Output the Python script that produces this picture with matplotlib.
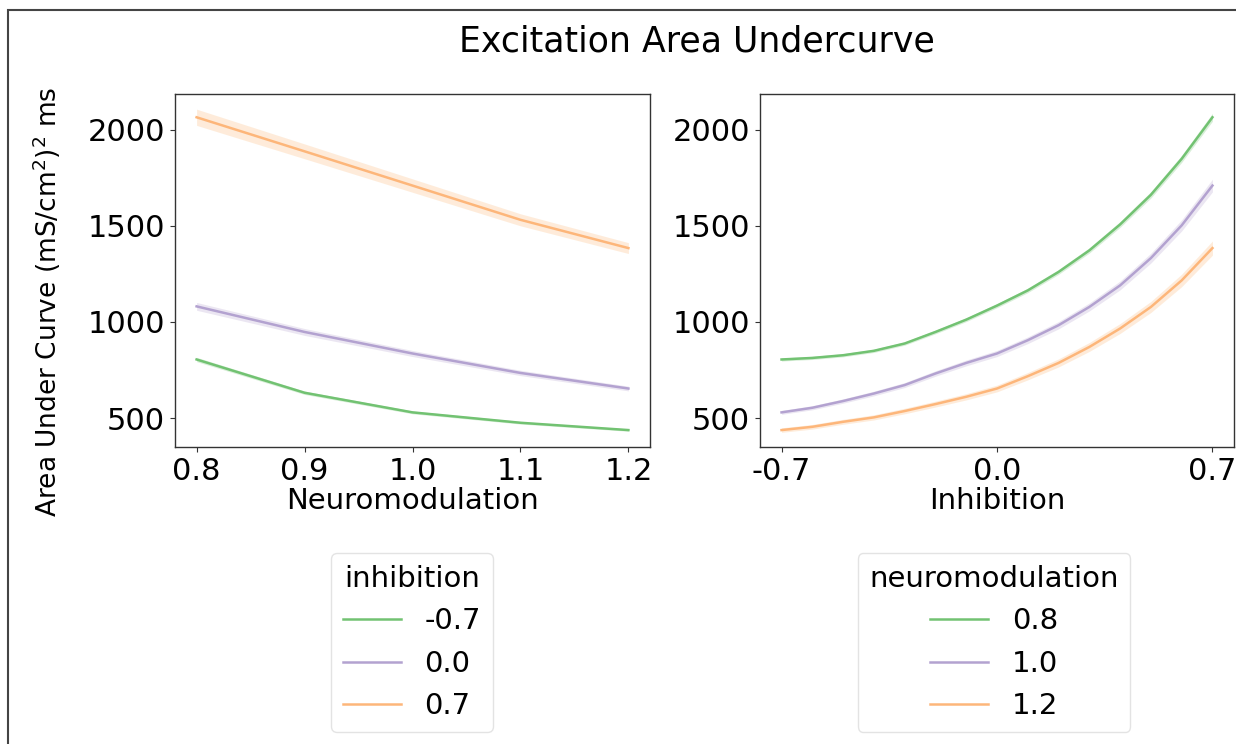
import matplotlib
matplotlib.use("Agg")
from matplotlib import pyplot as plt
import matplotlib.patches as mpatches
import numpy as np

# values
neuromodulation = [0.8, 0.9, 1.0, 1.1, 1.2]
inhibition = [-0.7, -0.6, -0.5, -0.4, -0.3, -0.2, -0.1, 0.0, 0.1, 0.2, 0.3, 0.4, 0.5, 0.6, 0.7]

# left panel: one line per inhibition level
left_labels = ["-0.7", "0.0", "0.7"]
left_inh_m07 = [805, 632, 530, 476, 438]
left_inh_00 = [1081, 948, 836, 735, 654]
left_inh_07 = [2064, 1887, 1709, 1531, 1384]
left_ci = [8, 16, 35]

# right panel: one line per neuromodulation level
right_labels = ["0.8", "1.0", "1.2"]
right_nm_08 = [805, 813, 827, 850, 888, 948, 1012, 1085, 1164, 1260, 1372, 1507, 1661, 1848, 2064]
right_nm_10 = [530, 554, 589, 628, 672, 732, 787, 836, 905, 983, 1078, 1190, 1332, 1502, 1709]
right_nm_12 = [438, 455, 481, 504, 537, 573, 611, 654, 718, 787, 870, 966, 1078, 1216, 1384]
right_ci = [12, 18, 20]

colors = ["#7fc97f", "#beaed4", "#fdc086"]
line_colors = ["#72c272", "#b3a2d0", "#fdb67a"]

W, H = 1236, 744
fig = plt.figure(figsize=(W / 100, H / 100), dpi=100)


def px_axes(x0, y0, x1, y1):
    return fig.add_axes([x0 / W, 1 - y1 / H, (x1 - x0) / W, (y1 - y0) / H])


ax1 = px_axes(175, 94, 650, 447)
ax2 = px_axes(760, 94, 1234, 447)


def draw(ax, x, series, cis, labels):
    handles = []
    for vals, ci, c, lc, lab in zip(series, cis, colors, line_colors, labels):
        v = np.array(vals, dtype=float)
        # band width scales with the value
        half = ci * v / v.mean()
        ax.fill_between(x, v - half, v + half, color=c, alpha=0.3, linewidth=0)
        h, = ax.plot(x, v, color=lc, lw=1.8, label=lab)
        handles.append(h)
    ax.set_ylim(350, 2185)
    ax.set_yticks([500, 1000, 1500, 2000])
    ax.tick_params(labelsize=22, length=3.5, width=0.8, colors="#333333", labelcolor="black")
    for s in ax.spines.values():
        s.set_color("#333333")
        s.set_linewidth(1.0)
    return handles


h1 = draw(ax1, neuromodulation, [left_inh_m07, left_inh_00, left_inh_07], left_ci, left_labels)
ax1.set_xlim(0.78, 1.22)
ax1.set_xticks(neuromodulation)
ax1.set_xticklabels(["0.8", "0.9", "1.0", "1.1", "1.2"])
ax1.set_xlabel("Neuromodulation", fontsize=21, labelpad=1)

h2 = draw(ax2, inhibition, [right_nm_08, right_nm_10, right_nm_12], right_ci, right_labels)
ax2.set_xlim(-0.77, 0.77)
ax2.set_xticks([-0.7, 0.0, 0.7])
ax2.set_xticklabels(["-0.7", "0.0", "0.7"])
ax2.set_xlabel("Inhibition", fontsize=21, labelpad=1)

leg1 = fig.legend(handles=h1, title="inhibition", loc="upper center",
                  bbox_to_anchor=(412 / W, 1 - 553 / H), fontsize=21, title_fontsize=21,
                  frameon=True, borderaxespad=0)
leg2 = fig.legend(handles=h2, title="neuromodulation", loc="upper center",
                  bbox_to_anchor=(994 / W, 1 - 553 / H), fontsize=21, title_fontsize=21,
                  frameon=True, borderaxespad=0)
for leg in (leg1, leg2):
    leg.get_frame().set_edgecolor("#dddddd")

fig.text(697 / W, 1 - 42 / H, "Excitation Area Undercurve", fontsize=25,
         ha="center", va="center")
fig.text(47 / W, 1 - 302 / H, "Area Under Curve (mS/cm$^2$)$^2$ ms", fontsize=19,
         rotation=90, ha="center", va="center")

# figure frame, cut off at the right and bottom
fig.patches.append(mpatches.Rectangle((8 / W, -0.1), 1.2, 1 - 10 / H + 0.1,
                                      transform=fig.transFigure, fill=False,
                                      edgecolor="#444444", linewidth=1.5))

fig.savefig("out.png", dpi=100)
